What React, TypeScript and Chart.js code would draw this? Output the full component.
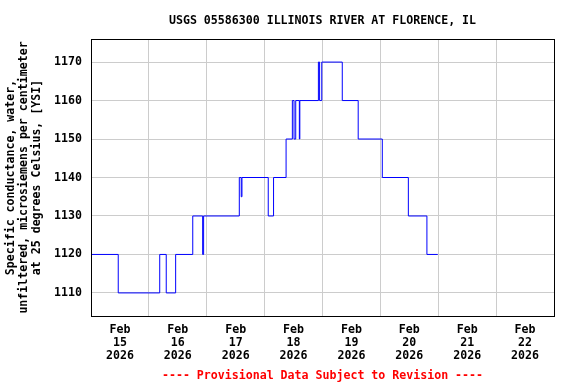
import React, { useEffect, useRef } from "react";
import { Chart, registerables } from "chart.js";

Chart.register(...registerables);

// Hours since Feb 15 2026 00:00 at which the reading changes
const changeHours: number[] = [
  0, 11.3, 28.5, 31.2, 35.1, 42.2, 46.3, 46.7, 61.5, 62.3, 62.6, 73.5, 75.7,
  80.9, 83.5, 84.2, 84.9, 86.4, 86.6, 94.3, 94.8, 95.7, 104.2, 110.8, 120.8,
  131.6, 139.3, 143.8,
];
// Specific conductance (uS/cm) from that time onward
const conductance: number[] = [
  1120, 1110, 1120, 1110, 1120, 1130, 1120, 1130, 1140, 1135, 1140, 1130, 1140,
  1150, 1160, 1150, 1160, 1150, 1160, 1170, 1160, 1170, 1160, 1150, 1140,
  1130, 1120, 1120,
];

const monthLabel = "Feb";
const dayLabels: string[] = ["15", "16", "17", "18", "19", "20", "21", "22"];
const yearLabel = "2026";
const yTicks: number[] = [1110, 1120, 1130, 1140, 1150, 1160, 1170];

const titleText = "USGS 05586300 ILLINOIS RIVER AT FLORENCE, IL";
const footerText = "---- Provisional Data Subject to Revision ----";
const yTitle: string[] = [
  "Specific conductance, water,",
  "unfiltered, microsiemens per centimeter",
  "at 25 degrees Celsius, [YSI]",
];

const FONT_FAMILY = '"DejaVu Sans Mono", monospace';
const FONT_SIZE = 11.6;

export default function App() {
  const canvasRef = useRef<HTMLCanvasElement | null>(null);

  useEffect(() => {
    document.body.style.margin = "0";
    const canvas = canvasRef.current;
    if (!canvas) return;

    const textPlugin = {
      id: "usgsText",
      afterDraw(chart: any) {
        const { ctx, chartArea } = chart;
        ctx.save();
        // frame
        ctx.strokeStyle = "#000000";
        ctx.lineWidth = 1;
        ctx.strokeRect(
          chartArea.left + 0.5,
          chartArea.top + 0.5,
          chartArea.right - chartArea.left,
          chartArea.bottom - chartArea.top
        );
        const cx = (chartArea.left + chartArea.right) / 2;
        ctx.font = `bold ${FONT_SIZE}px ${FONT_FAMILY}`;
        ctx.textAlign = "center";
        ctx.textBaseline = "middle";
        ctx.fillStyle = "#000000";
        ctx.fillText(titleText, cx, 20.5);
        ctx.fillStyle = "#ff0000";
        ctx.fillText(footerText, cx, 375.5);
        ctx.restore();
      },
    };

    const chart = new Chart(canvas, {
      type: "line",
      data: {
        datasets: [
          {
            data: changeHours.map((h, i) => ({ x: h, y: conductance[i] })),
            borderColor: "#0000ff",
            borderWidth: 1,
            pointRadius: 0,
            fill: false,
            stepped: "before",
          },
        ],
      },
      options: {
        animation: false,
        responsive: false,
        devicePixelRatio: 1,
        layout: { padding: { top: 39, right: 22, left: 0, bottom: 0 } },
        plugins: {
          legend: { display: false },
          tooltip: { enabled: false },
          title: { display: false },
        },
        scales: {
          x: {
            type: "linear",
            min: 0,
            max: 192,
            afterBuildTicks: (scale: any) => {
              const ticks = [];
              for (let v = 0; v <= 192; v += 12) ticks.push({ value: v });
              scale.ticks = ticks;
            },
            afterFit: (scale: any) => {
              scale.height = 68;
            },
            border: { display: false },
            grid: {
              drawTicks: false,
              color: (ctx: any) =>
                ctx.tick && ctx.tick.value % 24 === 0 ? "#cccccc" : "rgba(0,0,0,0)",
              lineWidth: 1,
            },
            ticks: {
              autoSkip: false,
              maxRotation: 0,
              padding: 8,
              color: "#000000",
              font: { family: FONT_FAMILY, size: FONT_SIZE, weight: "bold", lineHeight: 1.1 },
              callback: (value: any) => {
                const v = Number(value);
                if (v % 24 !== 12) return "";
                const idx = (v - 12) / 24;
                return [monthLabel, dayLabels[idx], yearLabel];
              },
            },
          },
          y: {
            type: "linear",
            min: 1104,
            max: 1176,
            afterBuildTicks: (scale: any) => {
              scale.ticks = yTicks.map((v) => ({ value: v }));
            },
            afterFit: (scale: any) => {
              scale.width = 91;
            },
            border: { display: false },
            grid: { drawTicks: false, color: "#cccccc", lineWidth: 1 },
            ticks: {
              padding: 9,
              color: "#000000",
              font: { family: FONT_FAMILY, size: FONT_SIZE, weight: "bold" },
              callback: (value: any) => String(value),
            },
            title: {
              display: true,
              text: yTitle,
              color: "#000000",
              padding: { top: 5, bottom: 0 },
              font: { family: FONT_FAMILY, size: FONT_SIZE, weight: "bold", lineHeight: 1.1 },
            },
          },
        },
      },
      plugins: [textPlugin],
    } as any);

    return () => {
      chart.destroy();
    };
  }, []);

  return (
    <div
      style={{
        position: "fixed",
        left: 0,
        top: 0,
        width: 576,
        height: 384,
        background: "#ffffff",
      }}
    >
      <canvas ref={canvasRef} width={576} height={384} />
    </div>
  );
}
